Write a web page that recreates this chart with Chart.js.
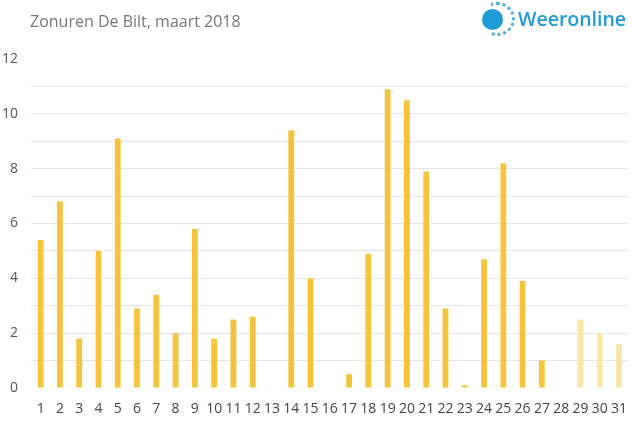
<!DOCTYPE html>
<html>
<head>
<meta charset="utf-8">
<script src="https://cdn.jsdelivr.net/npm/chart.js@4"></script>
<style>
html,body{margin:0;padding:0;background:#fff;}
#wrap{position:relative;width:632px;height:426px;}
#title{position:absolute;left:30px;top:10px;font-family:"Open Sans",sans-serif;font-size:16px;color:#777;white-space:nowrap;}
#logo{position:absolute;left:518px;top:5px;font-family:"Open Sans",sans-serif;font-weight:600;font-size:19.5px;color:#1f9bd7;white-space:nowrap;}
#sun{position:absolute;left:482px;top:9px;width:21px;height:21px;border-radius:50%;background:#1f9bd7;}
#ring{position:absolute;left:479px;top:2px;width:36px;height:34px;border-radius:50%;border:3px dotted #4aaee0;box-sizing:border-box;clip-path:polygon(35% 0,100% 0,100% 100%,35% 100%,20% 50%);}
canvas{position:absolute;left:0;top:0;}
</style>
</head>
<body>
<div id="wrap">
<canvas id="c" width="632" height="426"></canvas>
<div id="title">Zonuren De Bilt, maart 2018</div>
<div id="ring"></div>
<div id="sun"></div>
<div id="logo">Weeronline</div>
</div>
<script>
const days = ["1","2","3","4","5","6","7","8","9","10","11","12","13","14","15","16","17","18","19","20","21","22","23","24","25","26","27","28","29","30","31"];
const sunHours = [5.4,6.8,1.8,5.0,9.1,2.9,3.4,2.0,5.8,1.8,2.5,2.6,0,9.4,4.0,0,0.5,4.9,10.9,10.5,7.9,2.9,0.1,4.7,8.2,3.9,1.0,0,2.5,2.0,1.6];
const isForecast = [false,false,false,false,false,false,false,false,false,false,false,false,false,false,false,false,false,false,false,false,false,false,false,false,false,false,false,false,true,true,true];
const yTickLabels = ["0","2","4","6","8","10","12"];

const solid = "#f6c33a";
const light = "#fae4a6";

new Chart(document.getElementById("c"), {
  type: "bar",
  data: {
    labels: days,
    datasets: [{
      data: sunHours,
      backgroundColor: isForecast.map(f => f ? light : solid),
      borderWidth: 0,
      barPercentage: 0.3,
      categoryPercentage: 1.0
    }]
  },
  options: {
    responsive: false,
    animation: false,
    events: [],
    layout: { padding: { top: 59, left: 3, right: -1, bottom: 0 } },
    plugins: { legend: { display: false }, tooltip: { enabled: false } },
    scales: {
      x: {
        grid: { display: false },
        border: { display: false },
        afterFit: s => { s.height = 38; },
        ticks: {
          color: "#444",
          font: { family: "Open Sans", size: 14 },
          padding: 5,
          maxRotation: 0,
          autoSkip: false
        }
      },
      y: {
        min: 0,
        max: 12,
        border: { display: false },
        afterFit: s => { s.width = 28; },
        grid: {
          drawTicks: false,
          color: ctx => (ctx.tick && (ctx.tick.value === 0 || ctx.tick.value === 12)) ? "rgba(0,0,0,0)" : "#e6e6e6",
          lineWidth: 1
        },
        ticks: {
          stepSize: 1,
          autoSkip: false,
          padding: 13,
          color: "#555",
          font: { family: "Open Sans", size: 14 },
          callback: v => yTickLabels.includes(String(v)) ? String(v) : ""
        }
      }
    }
  }
});
</script>
</body>
</html>
